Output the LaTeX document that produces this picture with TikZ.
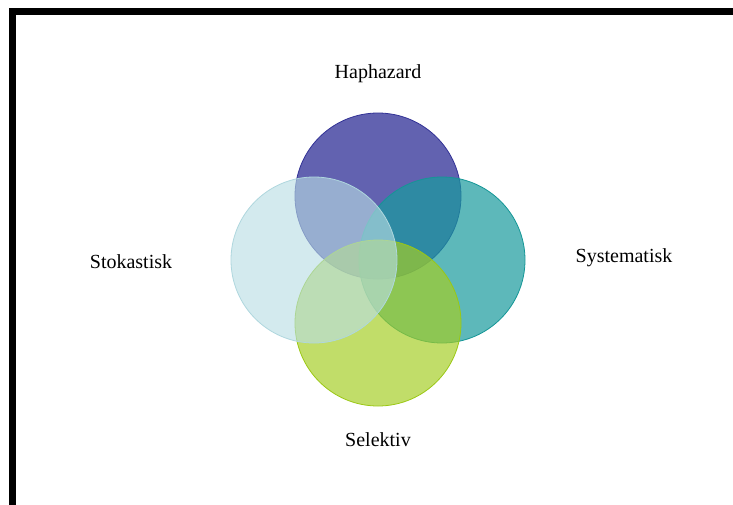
\documentclass[tikz,border=0pt]{standalone}
\usepackage{fontspec}
\setmainfont{Liberation Serif}
\definecolor{cblue}{RGB}{55,55,155}
\definecolor{cblueedge}{RGB}{50,50,150}
\definecolor{cteal}{RGB}{25,155,158}
\definecolor{ctealedge}{RGB}{20,150,150}
\definecolor{cgreen}{RGB}{165,205,35}
\definecolor{cgreenedge}{RGB}{155,200,20}
\definecolor{clight}{RGB}{185,222,228}
\definecolor{clightedge}{RGB}{175,215,222}
\begin{document}
\begin{tikzpicture}[x=1pt,y=-1pt,
  venn/.style={circle,minimum size=166pt,inner sep=0pt,line width=0.8pt},
  lbl/.style={font=\fontsize{20}{24}\selectfont,anchor=base,inner sep=0pt}]
\useasboundingbox (0,0) rectangle (733,504);
\fill[white] (0,0) rectangle (733,504);
\draw[line width=7pt] (12.5,520) -- (12.5,11.5) -- (745,11.5);
\node[venn,draw=cblueedge,fill=cblue,fill opacity=0.78] (hap) at (378,196) {};
\node[venn,draw=ctealedge,fill=cteal,fill opacity=0.7] (sys) at (442,260) {};
\node[venn,draw=cgreenedge,fill=cgreen,fill opacity=0.68] (sel) at (378,323) {};
\node[venn,draw=clightedge,fill=clight,fill opacity=0.62] (sto) at (314,260) {};
\node[lbl] (thap) at (378,78) {Haphazard};
\node[lbl] (tsto) at (131,268) {Stokastisk};
\node[lbl] (tsys) at (624,262) {Systematisk};
\node[lbl] (tsel) at (378,446) {Selektiv};
\end{tikzpicture}
\end{document}
